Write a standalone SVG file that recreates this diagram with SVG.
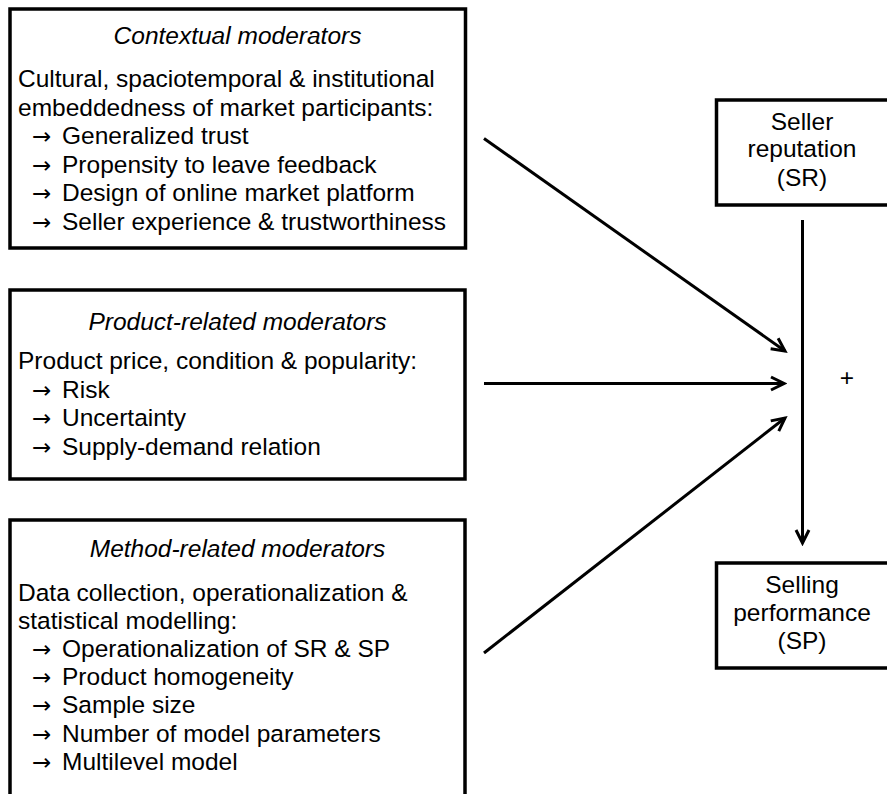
<svg xmlns="http://www.w3.org/2000/svg" width="887" height="794" viewBox="0 0 887 794">
<defs>
<style>
.box{fill:#fff;stroke:#000;stroke-width:3.5}
text{font-family:"Liberation Sans",Arial,sans-serif;font-size:24.5px;fill:#000}
.h{font-style:italic;text-anchor:middle}
.c{text-anchor:middle}
.a{font-family:"DejaVu Sans",sans-serif;font-size:23px}
.con{stroke:#000;stroke-width:3;fill:none}
</style>
<marker id="ah" viewBox="-16 -9 19 18" markerWidth="19" markerHeight="18" refX="0" refY="0" orient="auto" markerUnits="userSpaceOnUse">
<path d="M-13,-6.5 L0,0 L-13,6.5" fill="none" stroke="#000" stroke-width="3" stroke-linejoin="miter"/>
</marker>
</defs>
<rect width="887" height="794" fill="#fff"/>
<g id="contextual">
<rect class="box" x="10" y="9" width="455.5" height="239"/>
<text class="h" x="237.5" y="44">Contextual moderators</text>
<text x="18" y="87">Cultural, spaciotemporal &amp; institutional</text>
<text x="18" y="115.5">embeddedness of market participants:</text>
<text y="144"><tspan class="a" x="32">→</tspan><tspan x="62">Generalized trust</tspan></text>
<text y="172.5"><tspan class="a" x="32">→</tspan><tspan x="62">Propensity to leave feedback</tspan></text>
<text y="201"><tspan class="a" x="32">→</tspan><tspan x="62">Design of online market platform</tspan></text>
<text y="229.5"><tspan class="a" x="32">→</tspan><tspan x="62">Seller experience &amp; trustworthiness</tspan></text>
</g>
<g id="product">
<rect class="box" x="10" y="290" width="455" height="189"/>
<text class="h" x="237.5" y="330">Product-related moderators</text>
<text x="18" y="369">Product price, condition &amp; popularity:</text>
<text y="397.7"><tspan class="a" x="32">→</tspan><tspan x="62">Risk</tspan></text>
<text y="426.4"><tspan class="a" x="32">→</tspan><tspan x="62">Uncertainty</tspan></text>
<text y="455"><tspan class="a" x="32">→</tspan><tspan x="62">Supply-demand relation</tspan></text>
</g>
<g id="method">
<rect class="box" x="10" y="520" width="455" height="300"/>
<text class="h" x="237.5" y="557">Method-related moderators</text>
<text x="18" y="600.5">Data collection, operationalization &amp;</text>
<text x="18" y="628.5">statistical modelling:</text>
<text y="657"><tspan class="a" x="32">→</tspan><tspan x="62">Operationalization of SR &amp; SP</tspan></text>
<text y="685"><tspan class="a" x="32">→</tspan><tspan x="62">Product homogeneity</tspan></text>
<text y="713"><tspan class="a" x="32">→</tspan><tspan x="62">Sample size</tspan></text>
<text y="741.5"><tspan class="a" x="32">→</tspan><tspan x="62">Number of model parameters</tspan></text>
<text y="770"><tspan class="a" x="32">→</tspan><tspan x="62">Multilevel model</tspan></text>
</g>
<g id="sr">
<rect class="box" x="716.5" y="100" width="173" height="105"/>
<text class="c" x="802" y="129.5">Seller</text>
<text class="c" x="802" y="157">reputation</text>
<text class="c" x="802" y="185.5">(SR)</text>
</g>
<g id="sp">
<rect class="box" x="716.5" y="563" width="173" height="105"/>
<text class="c" x="802" y="592.5">Selling</text>
<text class="c" x="802" y="620.5">performance</text>
<text class="c" x="802" y="648.5">(SP)</text>
</g>
<g id="connectors">
<line class="con" x1="802.5" y1="220" x2="802.5" y2="543" marker-end="url(#ah)"/>
<line class="con" x1="484" y1="138.5" x2="785" y2="351" marker-end="url(#ah)"/>
<line class="con" x1="484" y1="383.5" x2="784" y2="383.5" marker-end="url(#ah)"/>
<line class="con" x1="484" y1="653" x2="785" y2="418" marker-end="url(#ah)"/>
<text class="c" x="847" y="385.5">+</text>
</g>
</svg>
